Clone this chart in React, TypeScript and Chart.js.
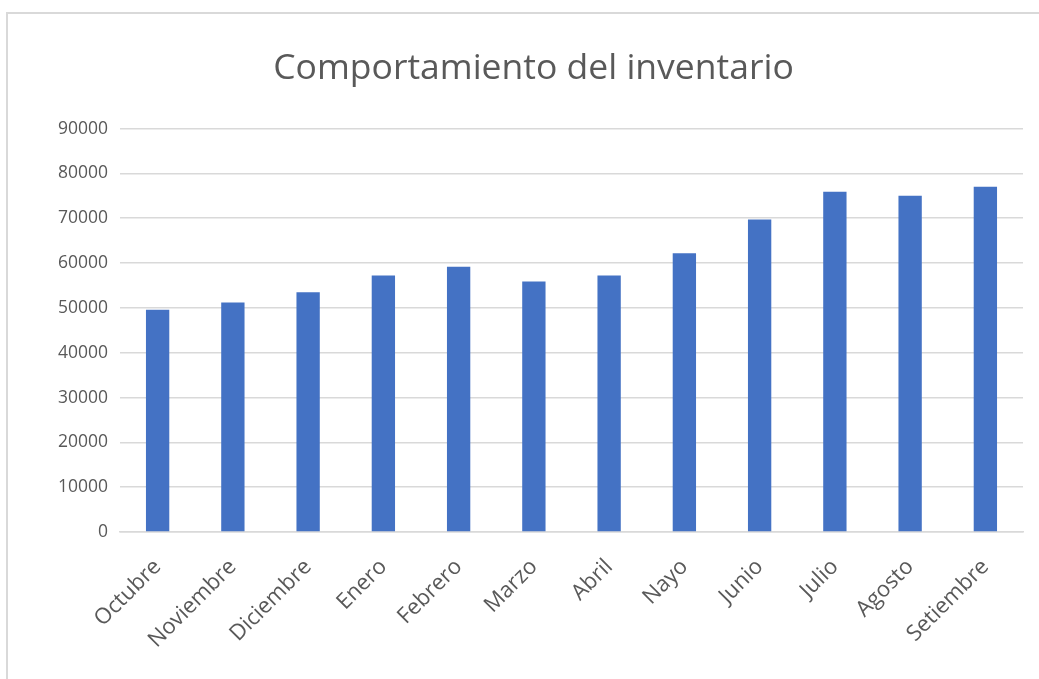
import React, { useEffect, useRef } from "react";
import { Chart, registerables } from "chart.js";

Chart.register(...registerables);

const TITLE = "Comportamiento del inventario";
const MONTHS = [
  "Octubre", "Noviembre", "Diciembre", "Enero", "Febrero", "Marzo",
  "Abril", "Nayo", "Junio", "Julio", "Agosto", "Setiembre",
];
const INVENTORY = [
  49600, 51200, 53500, 57200, 59200, 55900,
  57200, 62200, 69700, 75900, 75000, 77000,
];
const Y_MIN = 0;
const Y_MAX = 90000;
const Y_STEP = 10000;

const FONT = "'Open Sans', 'Noto Sans', sans-serif";
const TEXT = "#595959";

export default function App() {
  const ref = useRef<HTMLCanvasElement>(null);

  useEffect(() => {
    if (!ref.current) return;
    const chart = new Chart(ref.current, {
      type: "bar",
      data: {
        labels: MONTHS,
        datasets: [
          {
            label: "Inventario",
            data: INVENTORY,
            backgroundColor: "#4472C4",
            barPercentage: 0.31,
            categoryPercentage: 1,
          },
        ],
      },
      options: {
        animation: false,
        responsive: false,
        layout: { padding: { left: 44, right: 16, top: 0, bottom: 0 } },
        plugins: {
          legend: { display: false },
          tooltip: { enabled: false },
          title: {
            display: true,
            text: TITLE,
            color: TEXT,
            font: { family: FONT, size: 35.5, weight: "normal" },
            padding: { top: 48, bottom: 38 },
          },
        },
        scales: {
          x: {
            grid: { display: false },
            border: { display: true, color: "#d9d9d9", width: 1.5 },
            ticks: {
              color: TEXT,
              font: { family: FONT, size: 22 },
              maxRotation: 45,
              minRotation: 45,
              padding: 14,
              autoSkip: false,
            },
            afterFit: (scale: any) => {
              scale.height = 147;
            },
          },
          y: {
            min: Y_MIN,
            max: Y_MAX,
            border: { display: false },
            grid: { color: "#d9d9d9", lineWidth: 1.5, drawTicks: false },
            ticks: {
              stepSize: Y_STEP,
              color: TEXT,
              font: { family: FONT, size: 17.5 },
              padding: 12,
              callback: (v: any) => String(v),
            },
            afterFit: (scale: any) => {
              scale.width = 76;
            },
          },
        },
      },
    });
    return () => chart.destroy();
  }, []);

  return (
    <div style={{ position: "fixed", left: 0, top: 0, width: 1039, height: 679, background: "#fff", overflow: "hidden" }}>
      <div
        style={{
          position: "absolute",
          left: 6,
          top: 12,
          width: 1060,
          height: 700,
          border: "2px solid #d9d9d9",
          boxSizing: "border-box",
        }}
      />
      <canvas ref={ref} width={1039} height={679} style={{ position: "absolute", left: 0, top: 0 }} />
    </div>
  );
}
